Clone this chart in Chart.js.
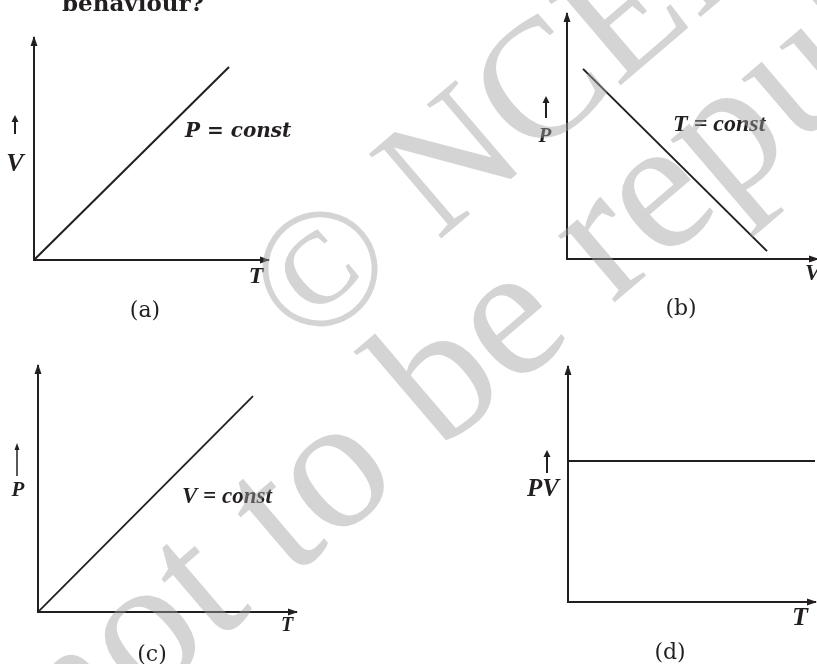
<!DOCTYPE html>
<html>
<head>
<meta charset="utf-8">
<script src="https://cdn.jsdelivr.net/npm/chart.js@4/dist/chart.umd.min.js"></script>
<style>
  body { margin: 0; background: #fff; }
  #page { position: relative; width: 817px; height: 664px; overflow: hidden; background: #fff; }
  #page canvas { position: absolute; }
  #overlay { position: absolute; left: 0; top: 0; pointer-events: none; }
</style>
</head>
<body>
<div id="page">
  <canvas id="chartA" width="300" height="330" style="left:0;top:0"></canvas>
  <canvas id="chartB" width="317" height="330" style="left:500px;top:0"></canvas>
  <canvas id="chartC" width="300" height="334" style="left:0;top:330px"></canvas>
  <canvas id="chartD" width="317" height="334" style="left:500px;top:330px"></canvas>
  <svg id="overlay" width="817" height="664">
    <text x="62" y="11" font-family="'DejaVu Serif', serif" font-weight="bold" font-size="23" fill="#231f20">behaviour?</text>
    <g transform="rotate(-40.5)" font-family="'Liberation Serif', serif" fill="#a0a0a0" fill-opacity="0.45">
      <text x="4" y="468" font-size="170">© NCERT</text>
      <text x="-445" y="629" font-size="190">not to be republished</text>
    </g>
  </svg>
</div>
<script>
// (a) V against T at constant P
const tA = [0, 10];
const vA = [0, 10];
// (b) P against V at constant T
const vB = [0.8, 10];
const pB = [9.7, 0.4];
// (c) P against T at constant V
const tC = [0, 10];
const pC = [0, 10];
// (d) PV against T
const tD = [0, 10];
const pvD = [6, 6];

const ink = '#231f20';

function arrowHead(ctx, x, y, dir, len, half) {
  ctx.beginPath();
  if (dir === 'up') {
    ctx.moveTo(x, y);
    ctx.lineTo(x - half, y + len);
    ctx.lineTo(x + half, y + len);
  } else {
    ctx.moveTo(x, y);
    ctx.lineTo(x - len, y - half);
    ctx.lineTo(x - len, y + half);
  }
  ctx.closePath();
  ctx.fill();
}

// arrowheads on the axes, the little arrow next to the y label, and the texts
function decor(panel) {
  return {
    id: 'decor',
    afterDraw(chart) {
      const ctx = chart.ctx;
      const x = chart.scales.x, y = chart.scales.y;
      const ox = x.getPixelForValue(0), oy = y.getPixelForValue(0);
      ctx.save();
      ctx.fillStyle = ink;
      ctx.strokeStyle = ink;
      arrowHead(ctx, ox, y.top - 2, 'up', 10, 3.5);
      arrowHead(ctx, x.right + 2, oy, 'right', 10, 3.5);

      const a = panel.arrow;
      ctx.lineWidth = a.width;
      ctx.beginPath();
      ctx.moveTo(a.x, a.from);
      ctx.lineTo(a.x, a.to + 5);
      ctx.stroke();
      arrowHead(ctx, a.x, a.to, 'up', 7, a.head);

      panel.labels.forEach(l => {
        ctx.font = l.font;
        ctx.textAlign = l.align || 'center';
        ctx.textBaseline = 'alphabetic';
        ctx.fillText(l.text, l.x, l.y);
      });
      ctx.restore();
    }
  };
}

const labelFont = s => 'bold italic ' + s + 'px "Liberation Serif", serif';
const capFont = '22px "DejaVu Serif", serif';

function makeChart(id, xs, ys, range, padding, lineWidth, panel) {
  const points = xs.map((v, i) => ({x: v, y: ys[i]}));
  const axis = max => ({
    type: 'linear',
    min: 0,
    max: max,
    grid: {display: false, drawTicks: false, tickLength: 0},
    ticks: {display: false},
    border: {display: true, color: ink, width: 2}
  });
  return new Chart(document.getElementById(id), {
    type: 'scatter',
    data: {
      datasets: [{
        data: points,
        showLine: true,
        borderColor: ink,
        borderWidth: lineWidth,
        pointRadius: 0,
        tension: 0
      }]
    },
    options: {
      responsive: false,
      animation: false,
      devicePixelRatio: 1,
      events: [],
      layout: {padding: padding, autoPadding: false},
      plugins: {legend: {display: false}, tooltip: {enabled: false}},
      scales: {x: axis(range[0]), y: axis(range[1])}
    },
    plugins: [decor(panel)]
  });
}

makeChart('chartA', tA, vA, [12, 11.5], {left: 34, top: 38, right: 32, bottom: 70}, 2, {
  arrow: {x: 15, from: 134, to: 115, width: 2, head: 3.5},
  labels: [
    {text: 'P = const', x: 185, y: 137, font: 'bold italic 20px "DejaVu Serif", serif', align: 'left'},
    {text: 'V', x: 15, y: 171, font: labelFont(26)},
    {text: 'T', x: 256, y: 283, font: labelFont(24)},
    {text: '(a)', x: 145, y: 317, font: capFont}
  ]
});

makeChart('chartB', vB, pB, [12.5, 12.5], {left: 67, top: 14, right: 0, bottom: 71}, 2, {
  arrow: {x: 46, from: 118, to: 96, width: 2, head: 3.5},
  labels: [
    {text: 'T = const', x: 173, y: 131, font: labelFont(24), align: 'left'},
    {text: 'P', x: 45, y: 142, font: labelFont(21)},
    {text: 'V', x: 305, y: 280, font: labelFont(23), align: 'left'},
    {text: '(b)', x: 181, y: 315, font: capFont}
  ]
});

makeChart('chartC', tC, pC, [12, 11.4], {left: 38, top: 36, right: 4, bottom: 52}, 1.8, {
  arrow: {x: 17, from: 146, to: 113, width: 1.5, head: 2.5},
  labels: [
    {text: 'V = const', x: 182, y: 173, font: labelFont(23), align: 'left'},
    {text: 'P', x: 18, y: 166, font: labelFont(21)},
    {text: 'T', x: 287, y: 301, font: labelFont(20)},
    {text: '(c)', x: 152, y: 331, font: capFont}
  ]
});

makeChart('chartD', tD, pvD, [10, 10], {left: 68, top: 37, right: 2, bottom: 62}, 2, {
  arrow: {x: 47, from: 143, to: 120, width: 2, head: 3.5},
  labels: [
    {text: 'PV', x: 43, y: 166, font: labelFont(25)},
    {text: 'T', x: 300, y: 295, font: labelFont(26)},
    {text: '(d)', x: 170, y: 329, font: capFont}
  ]
});
</script>
</body>
</html>
